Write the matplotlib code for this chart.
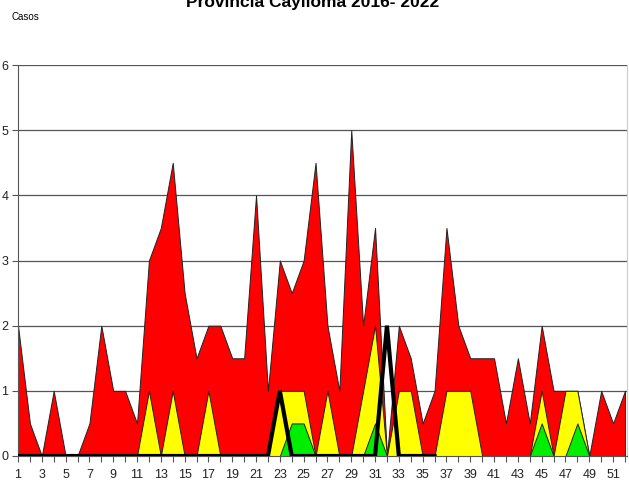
import matplotlib
import matplotlib.pyplot as plt

matplotlib.use("Agg")

plt.rcParams["font.family"] = ["Liberation Sans Narrow", "Liberation Sans", "DejaVu Sans"]

weeks = list(range(1, 53))
red_cases = [2, 0.5, 0, 1, 0, 0, 0.5, 2, 1, 1, 0.5, 3, 3.5, 4.5, 2.5, 1.5, 2, 2, 1.5, 1.5,
             4, 1, 3, 2.5, 3, 4.5, 2, 1, 5, 2, 3.5, 0, 2, 1.5, 0.5, 1, 3.5, 2, 1.5, 1.5,
             1.5, 0.5, 1.5, 0.5, 2, 1, 1, 1, 0, 1, 0.5, 1]
yellow_cases = [0, 0, 0, 0, 0, 0, 0, 0, 0, 0, 0, 1, 0, 1, 0, 0, 1, 0, 0, 0,
                0, 0, 1, 1, 1, 0, 1, 0, 0, 1, 2, 0, 1, 1, 0, 0, 1, 1, 1, 0,
                0, 0, 0, 0, 1, 0, 1, 1, 0, 0, 0, 0]
green_cases = [0, 0, 0, 0, 0, 0, 0, 0, 0, 0, 0, 0, 0, 0, 0, 0, 0, 0, 0, 0,
               0, 0, 0, 0.5, 0.5, 0, 0, 0, 0, 0, 0.5, 0, 0, 0, 0, 0, 0, 0, 0, 0,
               0, 0, 0, 0, 0.5, 0, 0, 0.5, 0, 0, 0, 0]
current_weeks = list(range(1, 37))
current_cases = [0, 0, 0, 0, 0, 0, 0, 0, 0, 0, 0, 0, 0, 0, 0, 0, 0, 0, 0, 0,
                 0, 0, 1, 0, 0, 0, 0, 0, 0, 0, 0, 2, 0, 0, 0, 0]

figure = plt.figure(figsize=(6.29, 4.88), dpi=100)
axis = figure.add_axes([18 / 629, 32 / 488, 609 / 629, 391 / 488])

for values, color in [(red_cases, "#FF0000"), (yellow_cases, "#FFFF00"), (green_cases, "#00EE00")]:
    axis.fill_between(weeks, values, 0, facecolor=color, edgecolor="#222222", linewidth=0.7, zorder=2)
axis.plot(current_weeks, current_cases, color="black", linewidth=3, zorder=4, solid_joinstyle="miter")

axis.set_xlim(1, 52.17)
axis.set_ylim(0, 6)
axis.set_yticks(range(0, 7))
axis.set_xticks(weeks)
axis.set_xticklabels([str(w) if w % 2 == 1 else "" for w in weeks])
axis.yaxis.grid(True, color="#555555", linewidth=0.9, zorder=1)
axis.set_axisbelow(True)
axis.tick_params(axis="both", labelsize=9, length=4, width=0.8, color="#555555", labelcolor="#222222", pad=3)
axis.tick_params(axis="x", pad=5)
axis.spines["top"].set_visible(False)
axis.spines["right"].set_color("#CCCCCC")
axis.spines["left"].set_color("#555555")
axis.spines["bottom"].set_color("#555555")

figure.text(313 / 629, 1 - 7 / 488, "Provincia Caylloma 2016- 2022", ha="center", va="baseline",
            fontsize=12.5, fontweight="bold")
figure.text(12 / 629, 1 - 20 / 488, "Casos", ha="left", va="baseline", fontsize=7)

figure.savefig("out.png", dpi=100)
plt.close(figure)
